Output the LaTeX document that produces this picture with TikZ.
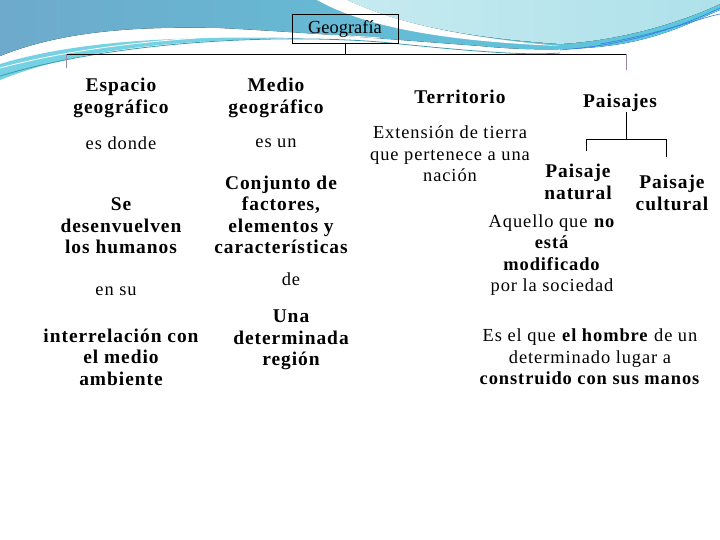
\documentclass[tikz,border=0pt]{standalone}
\usepackage{fontspec}
\setmainfont{Liberation Serif}
\newfontfamily\spaced[LetterSpace=5]{Liberation Serif}
\usetikzlibrary{positioning}
\definecolor{wavedark}{HTML}{6EAACB}
\definecolor{wavelight}{HTML}{AEE1EA}
\definecolor{wavecyan}{HTML}{5CCADE}
\definecolor{waveline}{HTML}{3E9AAE}
\definecolor{dropline}{HTML}{9A86A8}

\begin{document}
\begin{tikzpicture}[x=1bp, y=-1bp,
  txt/.style={align=center, inner sep=0pt, font=\spaced\fontsize{18.5}{21.5}\selectfont},
  bold/.style={align=center, inner sep=0pt, font=\spaced\bfseries\fontsize{19.5}{21.5}\selectfont}]

    \useasboundingbox (0,0) rectangle (720,540);

    % slide background
    \fill[left color=wavedark, right color=wavecyan] (0,0) -- (720,0) -- (720,10)
        .. controls (700,18) and (680,30) .. (640,40) .. controls (600,50) and (540,52) .. (480,46)
        .. controls (400,40) and (300,32) .. (220,28) .. controls (130,26) and (60,32) .. (0,56) -- cycle;
    \fill[wavecyan!85] (0,64) .. controls (80,40) and (180,36) .. (300,38)
        .. controls (180,40) and (80,48) .. (0,80) -- cycle;
    \fill[left color=wavelight!70!white, right color=wavelight] (347,0) .. controls (400,25) and (470,38) .. (560,44)
        .. controls (630,40) and (690,18) .. (720,4) -- (720,0) -- cycle;
    \fill[white] (317,0) .. controls (370,30) and (460,42) .. (560,46)
        .. controls (470,38) and (400,25) .. (347,0) -- cycle;
    \draw[waveline, line width=0.8] (0,76) .. controls (120,40) and (280,34) .. (380,42)
        .. controls (460,50) and (520,56) .. (560,53);
    \draw[white, line width=0.8] (0,68) .. controls (120,36) and (280,30) .. (380,38);
    \draw[wavecyan!60!blue, line width=0.6] (560,50) .. controls (640,44) and (690,22) .. (720,8);
    \draw[wavecyan!60!blue, line width=0.6] (600,44) .. controls (660,34) and (700,18) .. (720,14);

    \node[draw, font=\fontsize{18.5}{20}\selectfont, minimum width=106, minimum height=29] (geo) at (345,29) {Geografía};

    \coordinate (bl) at (66,54);
    \coordinate (br) at (626,54);
    \coordinate (bld) at (66,68);
    \coordinate (brd) at (626,70);

    % Espacio geografico
    \node[bold] (esp) at (121,98) {Espacio\\geográfico};
    \node[txt] (esd) at (121,143) {es donde};
    \node[bold] (sed) at (121,226) {Se\\desenvuelven\\los humanos};
    \node[txt] (ens) at (116,291) {en su};
    \node[bold] (int) at (121,357) {interrelación con\\el medio\\ambiente};

    % Medio geografico
    \node[bold] (med) at (276,98) {Medio\\geográfico};
    \node[txt] (esu) at (276,143) {es un};
    \node[bold] (con) at (281,215) {Conjunto de\\factores,\\elementos y\\características};
    \node[txt] (de) at (291,279) {de};
    \node[bold] (reg) at (291,340) {Una\\determinada\\región};

    % Territorio
    \node[bold] (ter) at (460,97) {Territorio};
    \node[txt] (ext) at (450,154) {Extensión de tierra\\que pertenece a una\\nación};

    % Paisajes
    \node[bold] (pai) at (620,103) {Paisajes};
    \coordinate (pj) at (626,139);
    \coordinate (pl) at (586,139);
    \coordinate (pr) at (666,139);
    \coordinate (pld) at (586,151);
    \coordinate (prd) at (666,157);
    \node[bold] (nat) at (578,182) {Paisaje\\natural};
    \node[bold] (cul) at (672,193) {Paisaje\\cultural};
    \node[txt] (aqu) at (552,255) {Aquello que \textbf{no}\\\textbf{está}\\\textbf{modificado}\\por la sociedad};
    \node[txt] (hom) at (590,357) {Es el que \textbf{el hombre} de un\\determinado lugar a\\\textbf{construido con sus manos}};

    % Connections
    \draw (geo.south) -- (geo.south |- bl);
    \draw (bl) -- (br);
    \draw[dropline] (bl) -- (bld);
    \draw[dropline] (br) -- (brd);
    \draw (pj |- pai.south) -- (pj);
    \draw (pl) -- (pr);
    \draw (pl) -- (pld);
    \draw (pr) -- (prd);

\end{tikzpicture}
\end{document}
